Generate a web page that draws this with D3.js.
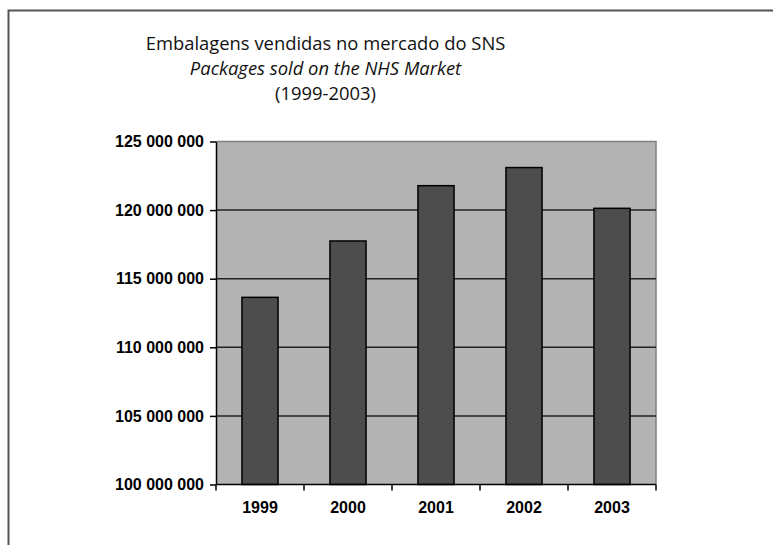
<!DOCTYPE html>
<html><head><meta charset="utf-8">
<script src="https://cdn.jsdelivr.net/npm/d3@7"></script>
<style>
html,body{margin:0;padding:0;background:#fff;}
svg{display:block;}
</style></head>
<body>
<script>
const categories = ["1999","2000","2001","2002","2003"];
const values = [113640000, 117750000, 121780000, 123100000, 120130000];
const yTicks = [100000000,105000000,110000000,115000000,120000000,125000000];
const titleLines = ["Embalagens vendidas no mercado do SNS","Packages sold on the NHS Market","(1999-2003)"];

const W=773,H=545;
const svg=d3.select("body").append("svg").attr("width",W).attr("height",H);
// outer frame (left + top)
svg.append("path").attr("d","M8.5,545 L8.5,10.5 L773,10.5").attr("fill","none").attr("stroke","#555").attr("stroke-width",2);

const m={l:216,r:656,t:141.5,b:484.5};
const x=d3.scaleBand().domain(categories).range([m.l,m.r]).paddingInner(0.59).paddingOuter(0.295);
const xb=d3.scaleBand().domain(categories).range([m.l,m.r]);
const y=d3.scaleLinear().domain([100000000,125000000]).range([m.b,m.t]);

svg.append("rect").attr("x",m.l).attr("y",m.t).attr("width",m.r-m.l).attr("height",m.b-m.t).attr("fill","#b3b3b3");
// plot border top/right
svg.append("path").attr("d",`M${m.l},${m.t} L${m.r},${m.t} L${m.r},${m.b}`).attr("fill","none").attr("stroke","#808080").attr("stroke-width",1.5);
// gridlines
svg.append("g").selectAll("line").data(yTicks.filter(d=>d>100000000&&d<125000000)).join("line")
  .attr("x1",m.l).attr("x2",m.r).attr("y1",d=>y(d)).attr("y2",d=>y(d)).attr("stroke","#222").attr("stroke-width",1.5);
// bars
svg.append("g").selectAll("rect").data(values).join("rect")
  .attr("x",(d,i)=>x(categories[i])).attr("width",x.bandwidth())
  .attr("y",d=>y(d)).attr("height",d=>y(100000000)-y(d))
  .attr("fill","#4d4d4d").attr("stroke","#000").attr("stroke-width",1.5);

const fmt=d=>d3.format(",")(d).replace(/,/g," ");
// y axis
const ya=svg.append("g").attr("transform",`translate(${m.l},0)`)
  .call(d3.axisLeft(y).tickValues(yTicks).tickFormat(fmt).tickSize(6).tickPadding(6).tickSizeOuter(0));
ya.select(".domain").attr("stroke","#000").attr("stroke-width",1.5);
ya.selectAll(".tick line").attr("stroke","#000").attr("stroke-width",1.5);
ya.selectAll("text").attr("font-family","Liberation Sans, Arial, sans-serif").attr("font-weight","bold").attr("font-size","16px").attr("fill","#000");

// x axis
const xa=svg.append("g").attr("transform",`translate(0,${m.b})`);
xa.append("line").attr("x1",m.l).attr("x2",m.r).attr("stroke","#000").attr("stroke-width",1.5);
const bounds=categories.map(c=>xb(c)).concat([m.r]);
xa.selectAll("line.tk").data(bounds).join("line").attr("class","tk")
  .attr("x1",d=>d).attr("x2",d=>d).attr("y1",0).attr("y2",6).attr("stroke","#000").attr("stroke-width",1.5);
xa.selectAll("text").data(categories).join("text")
  .attr("x",d=>xb(d)+xb.bandwidth()/2).attr("y",28.5).attr("text-anchor","middle")
  .attr("font-family","Liberation Sans, Arial, sans-serif").attr("font-weight","bold").attr("font-size","16px").text(d=>d);

// title
const tg=svg.append("g").attr("font-family","Open Sans, sans-serif").attr("font-size","18.4px").attr("fill","#111").attr("text-anchor","middle");
tg.append("text").attr("x",325.5).attr("y",49.5).text(titleLines[0]);
tg.append("text").attr("x",325.5).attr("y",74.5).attr("font-style","italic").text(titleLines[1]);
tg.append("text").attr("x",325.5).attr("y",100).text(titleLines[2]);
</script>
</body></html>
